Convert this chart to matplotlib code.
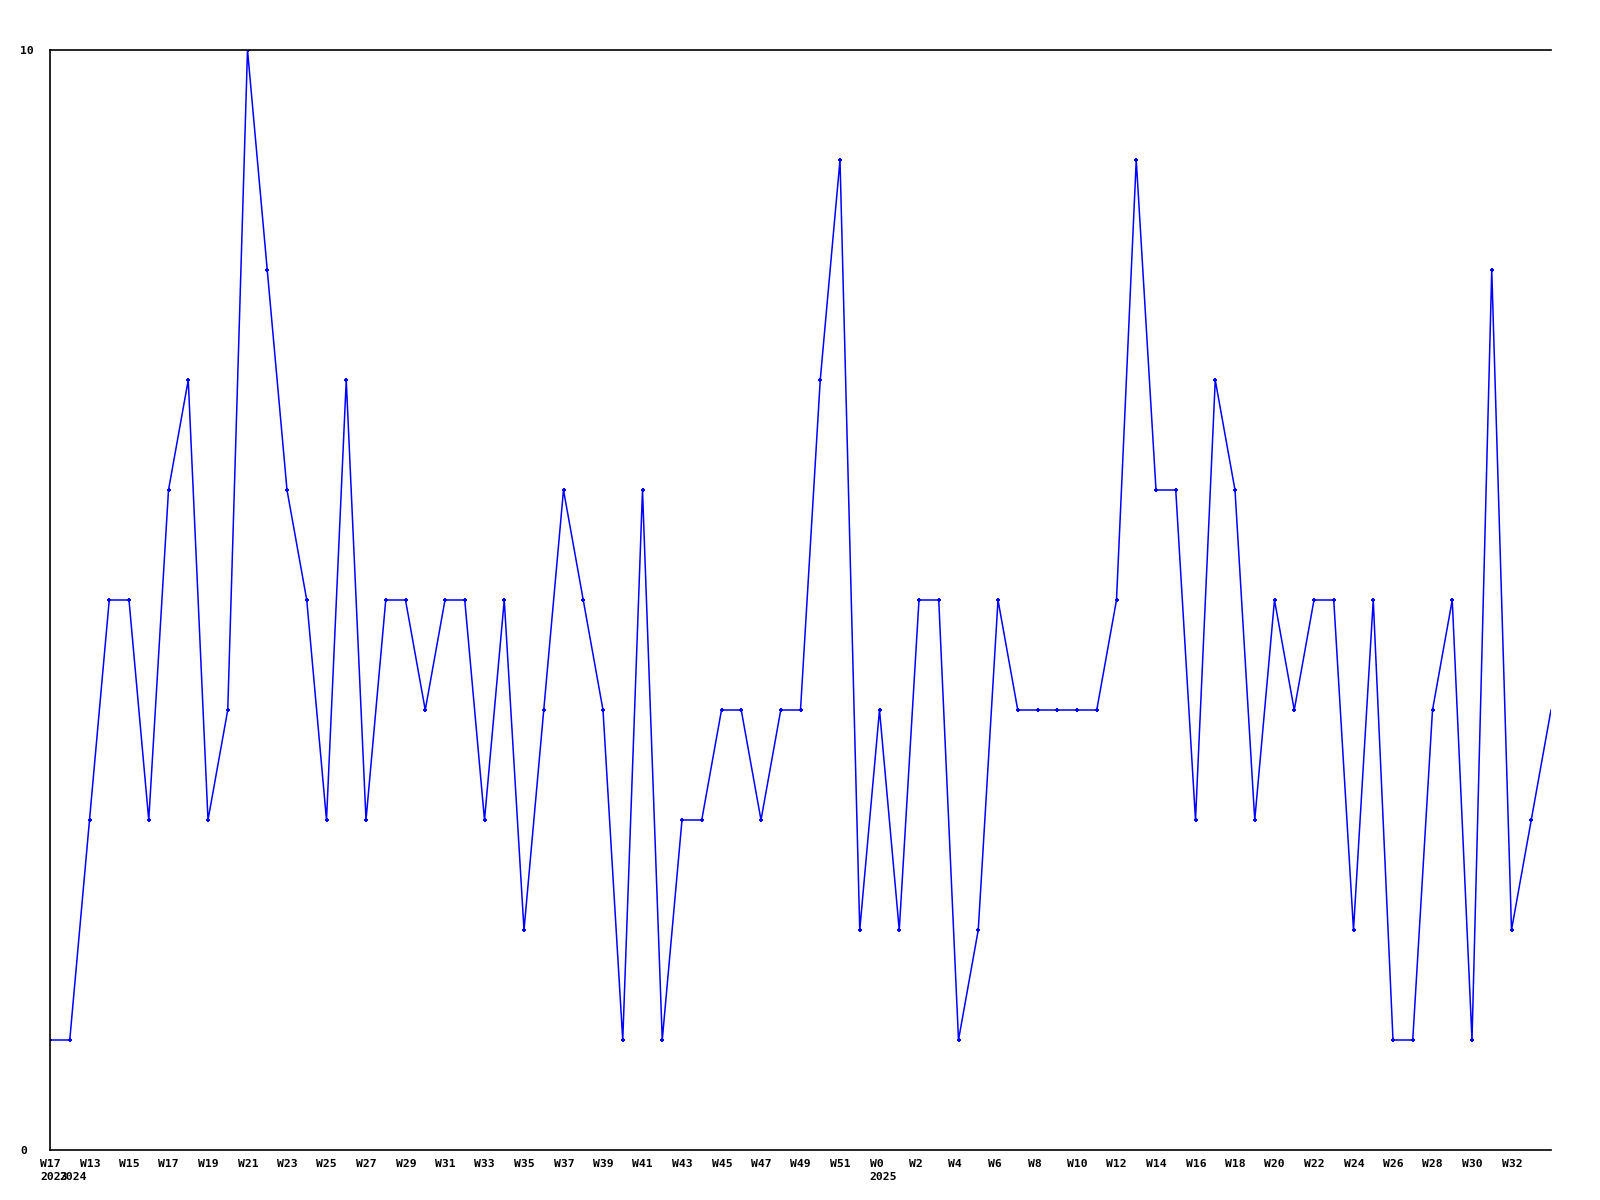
import matplotlib
matplotlib.use("Agg")
import matplotlib.pyplot as plt
from matplotlib.transforms import ScaledTranslation

weeks = ["W17"] + [f"W{w}" for w in range(12, 53)] + [f"W{w}" for w in range(0, 35)]
years = {0: "2023", 1: "2024", 42: "2025"}
values = [1, 1, 3, 5, 5, 3, 6, 7, 3, 4,
          10, 8, 6, 5, 3, 7, 3, 5, 5, 4,
          5, 5, 3, 5, 2, 4, 6, 5, 4, 1,
          6, 1, 3, 3, 4, 4, 3, 4, 4, 7,
          9, 2, 4, 2, 5, 5, 1, 2, 5, 4,
          4, 4, 4, 4, 5, 9, 6, 6, 3, 7,
          6, 3, 5, 4, 5, 5, 2, 5, 1, 1,
          4, 5, 1, 8, 2, 3, 4]

dpi = 100
fig = plt.figure(figsize=(16, 12), dpi=dpi)
W, H = 1600, 1200
ax = fig.add_axes([50 / W, 1 - 1150 / H, (1551 - 50) / W, (1150 - 50) / H])

x = list(range(len(values)))
ax.plot(x, values, color="#0000ff", lw=1.1, marker="+", ms=3.5, mew=1.4,
        markevery=list(range(len(values) - 1)))
ax.set_xlim(0, len(values) - 1)
ax.set_ylim(0, 10)

labels = []
n = len(weeks)
for i, w in enumerate(weeks):
    first = ""
    if i < n - 1:
        if i < 42:
            if i == 0 or (i >= 2 and int(w[1:]) % 2 == 1):
                first = w
        else:
            if int(w[1:]) % 2 == 0:
                first = w
    yr = years.get(i, "")
    labels.append(first + ("\n" + yr if yr else ""))

font = dict(family="DejaVu Sans Mono", weight="bold", size=8.2)
ax.set_xticks(x)
ax.set_xticklabels(labels, ha="left", va="top", linespacing=1.45, **font)
ax.tick_params(axis="x", length=0, pad=6.2)
off = ScaledTranslation(-10 / dpi, 0, fig.dpi_scale_trans)
for lab in ax.get_xticklabels():
    lab.set_transform(lab.get_transform() + off)

ax.set_yticks([0, 10])
ax.set_yticklabels(["0", "10"], ha="left", **font)
ax.tick_params(axis="y", length=0, pad=21.6)

ax.spines["right"].set_visible(False)
for s in ["left", "top", "bottom"]:
    ax.spines[s].set_linewidth(1.2)
    ax.spines[s].set_color("black")

fig.savefig("out.png", dpi=dpi, facecolor="white")
